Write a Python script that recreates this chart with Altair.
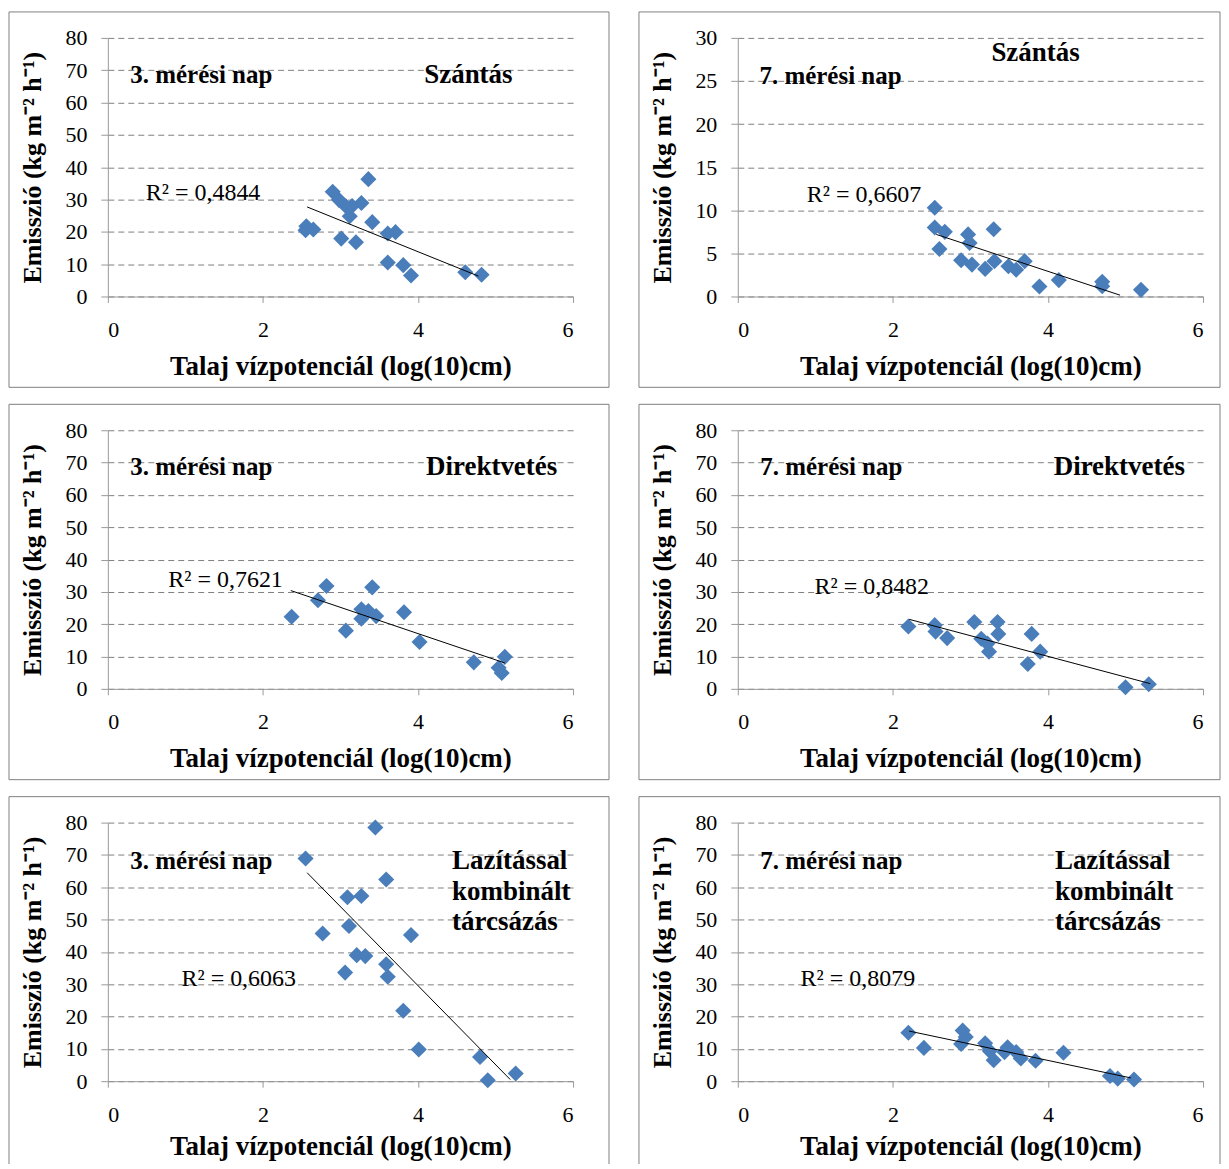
import altair as alt
import pandas as pd

FONT = "Liberation Serif"
X_TITLE = "Talaj vízpotenciál (log(10)cm)"
Y_TITLE = "Emisszió (kg m⁻² h⁻¹)"
X_TICKS = [0, 2, 4, 6]

# ---- Panel 1: 3. mérési nap, Szántás
P1_X = [3.36, 2.90, 2.98, 3.07, 3.27, 3.15, 3.12, 2.56, 2.65, 2.55, 3.01, 3.20, 3.41, 3.61, 3.71, 3.61, 3.81, 3.91, 4.61, 4.82]
P1_Y = [36.3, 32.4, 29.9, 27.9, 28.9, 28.0, 24.8, 21.7, 20.7, 20.5, 17.9, 16.8, 23.0, 19.5, 19.9, 10.5, 9.7, 6.5, 7.5, 6.7]
P1_LX = [2.57, 4.78]
P1_LY = [27.7, 6.3]

# ---- Panel 2: 7. mérési nap, Szántás
P2_X = [2.54, 2.54, 2.67, 2.60, 2.97, 2.99, 3.30, 2.88, 3.02, 3.19, 3.31, 3.49, 3.59, 3.70, 3.89, 4.14, 4.70, 4.70, 5.20]
P2_Y = [10.3, 8.0, 7.5, 5.5, 7.2, 6.2, 7.8, 4.2, 3.7, 3.2, 4.1, 3.5, 3.1, 4.1, 1.15, 1.9, 1.7, 1.2, 0.77]
P2_LX = [2.56, 4.93]
P2_LY = [7.2, 0.15]

# ---- Panel 3: 3. mérési nap, Direktvetés
P3_X = [2.37, 2.71, 2.82, 3.07, 3.27, 3.27, 3.36, 3.46, 3.41, 3.82, 4.02, 4.72, 5.12, 5.04, 5.08]
P3_Y = [22.3, 27.4, 31.8, 18.0, 24.6, 21.7, 24.1, 22.5, 31.4, 23.7, 14.5, 8.2, 9.9, 6.5, 4.9]
P3_LX = [2.36, 5.12]
P3_LY = [30.4, 8.0]

# ---- Panel 4: 7. mérési nap, Direktvetés
P4_X = [2.20, 2.54, 2.55, 2.70, 3.05, 3.14, 3.24, 3.22, 3.35, 3.36, 3.79, 3.90, 3.74, 5.00, 5.30]
P4_Y = [19.3, 19.7, 17.7, 15.7, 20.7, 15.5, 11.5, 14.0, 20.7, 17.0, 17.0, 11.5, 7.7, 0.5, 1.4]
P4_LX = [2.21, 5.32]
P4_LY = [21.5, 1.6]

# ---- Panel 5: 3. mérési nap, Lazítással kombinált tárcsázás
P5_X = [3.45, 2.55, 3.59, 3.09, 3.27, 3.11, 2.77, 3.91, 3.21, 3.32, 3.06, 3.59, 3.61, 3.81, 4.01, 4.80, 4.90, 5.26]
P5_Y = [78.5, 68.9, 62.4, 56.9, 57.3, 48.0, 45.7, 45.2, 39.0, 38.7, 33.6, 36.2, 32.3, 21.8, 9.8, 7.5, 0.3, 2.4]
P5_LX = [2.57, 5.19]
P5_LY = [64.5, 0.5]

# ---- Panel 6: 7. mérési nap, Lazítással kombinált tárcsázás
P6_X = [2.20, 2.40, 2.90, 2.94, 2.88, 3.19, 3.25, 3.30, 3.44, 3.48, 3.59, 3.65, 3.84, 4.20, 4.80, 4.90, 5.11]
P6_Y = [15.0, 10.3, 15.7, 13.7, 11.5, 11.7, 9.3, 6.5, 9.0, 10.5, 9.0, 7.0, 6.3, 8.8, 1.6, 0.8, 0.5]
P6_LX = [2.21, 5.07]
P6_LY = [15.5, 1.0]

Y_MAX = [80, 30, 80, 80, 80, 80]
Y_STEP = [10, 5, 10, 10, 10, 10]

DAY_TEXT = ["3. mérési nap", "7. mérési nap", "3. mérési nap", "7. mérési nap", "3. mérési nap", "7. mérési nap"]
DAY_X = [0.29, 0.28, 0.29, 0.29, 0.29, 0.29]
DAY_Y = [68.5, 25.6, 68.5, 68.5, 68.2, 68.2]

TREAT_TEXT = [["Szántás"], ["Szántás"], ["Direktvetés"], ["Direktvetés"],
              ["Lazítással", "kombinált", "tárcsázás"], ["Lazítással", "kombinált", "tárcsázás"]]
TREAT_ALIGN = ["center", "center", "center", "center", "left", "left"]
TREAT_X = [4.65, 3.84, 4.95, 4.92, 4.44, 4.09]
TREAT_Y = [[68.5], [28.2], [68.5], [68.5], [68.2, 58.6, 49.1], [68.2, 58.6, 49.1]]

R2_TEXT = ["R² = 0,4844", "R² = 0,6607", "R² = 0,7621", "R² = 0,8482", "R² = 0,6063", "R² = 0,8079"]
R2_X = [0.49, 0.89, 0.78, 0.99, 0.95, 0.81]
R2_Y = [32.1, 11.8, 33.7, 31.5, 31.5, 31.5]

PX = [P1_X, P2_X, P3_X, P4_X, P5_X, P6_X]
PY = [P1_Y, P2_Y, P3_Y, P4_Y, P5_Y, P6_Y]
LX = [P1_LX, P2_LX, P3_LX, P4_LX, P5_LX, P6_LX]
LY = [P1_LY, P2_LY, P3_LY, P4_LY, P5_LY, P6_LY]

PLOT_W = 466
PLOT_H = 259
RIGHT_MARGIN = [36, 17]
X_TITLE_PAD = [13, 13, 13, 13, 8, 8]
GRID = "#808080"
AXIS = "#999999"


def make_panel(i):
    xsc = alt.Scale(domain=[0, 6], nice=False, zero=False)
    ysc = alt.Scale(domain=[0, Y_MAX[i]], nice=False)
    xax = alt.Axis(values=X_TICKS, grid=False, title=X_TITLE, tickSize=6,
                   labelPadding=17, titlePadding=X_TITLE_PAD[i], domainColor=AXIS, tickColor=AXIS)
    yax = alt.Axis(values=list(range(0, Y_MAX[i] + 1, Y_STEP[i])), grid=True,
                   gridDash=[6, 4], gridColor=GRID, title=Y_TITLE, tickSize=7,
                   titleFontSize=26,
                   labelPadding=14, titlePadding=19, domainColor=AXIS, tickColor=AXIS)
    X = alt.X("x:Q", scale=xsc, axis=xax)
    Y = alt.Y("y:Q", scale=ysc, axis=yax)

    frame = alt.Chart(pd.DataFrame({"k": [0]})).mark_rect(
        fillOpacity=0, stroke="#808080", strokeWidth=1
    ).encode(
        x=alt.value(-99), x2=alt.value(PLOT_W + RIGHT_MARGIN[i % 2]),
        y=alt.value(-26), y2=alt.value(PLOT_H + 91),
    )

    pts = alt.Chart(pd.DataFrame({"x": PX[i], "y": PY[i]})).mark_point(
        shape="diamond", filled=True, size=260, color="#4A7EBB", opacity=1
    ).encode(x=X, y=Y)

    trend = alt.Chart(pd.DataFrame({"x": LX[i], "y": LY[i]})).mark_line(
        color="black", strokeWidth=1
    ).encode(x=X, y=Y)

    day = alt.Chart(pd.DataFrame({"x": [DAY_X[i]], "y": [DAY_Y[i]], "t": [DAY_TEXT[i]]})).mark_text(
        font=FONT, fontSize=25, fontWeight="bold", align="left", baseline="middle", color="black"
    ).encode(x=X, y=Y, text="t:N")

    treat = alt.Chart(pd.DataFrame({
        "x": [TREAT_X[i]] * len(TREAT_TEXT[i]), "y": TREAT_Y[i], "t": TREAT_TEXT[i]
    })).mark_text(
        font=FONT, fontSize=27, fontWeight="bold", align=TREAT_ALIGN[i], baseline="middle", color="black"
    ).encode(x=X, y=Y, text="t:N")

    r2 = alt.Chart(pd.DataFrame({"x": [R2_X[i]], "y": [R2_Y[i]], "t": [R2_TEXT[i]]})).mark_text(
        font=FONT, fontSize=24, align="left", baseline="middle", color="black"
    ).encode(x=X, y=Y, text="t:N")

    return alt.layer(frame, pts, trend, day, treat, r2).properties(width=PLOT_W, height=PLOT_H)


panels = [make_panel(i) for i in range(6)]

chart = alt.vconcat(
    alt.hconcat(panels[0], panels[1], spacing=28),
    alt.hconcat(panels[2], panels[3], spacing=28),
    alt.hconcat(panels[4], panels[5], spacing=28),
    spacing=15,
).properties(
    padding={"left": 0, "top": 2, "right": 0, "bottom": -10}
).configure_view(
    strokeWidth=0
).configure_axis(
    labelFont=FONT, labelFontSize=22, labelColor="black",
    titleFont=FONT, titleFontSize=27, titleFontWeight="bold", titleColor="black",
)

chart.save("out.html", embed_options={"renderer": "svg", "actions": False})
